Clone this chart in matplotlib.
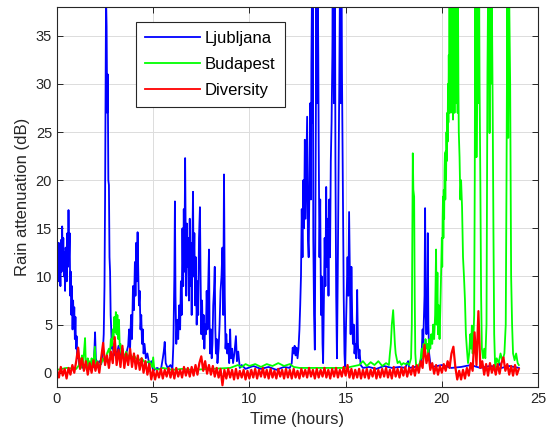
import matplotlib
matplotlib.use("Agg")
import matplotlib.pyplot as plt
import numpy as np

# Ljubljana link attenuation (hours, dB)
LJ_T = [0.00, 0.03, 0.06, 0.09, 0.12, 0.15, 0.18, 0.21, 0.24, 0.27, 0.30, 0.33, 0.36, 0.39, 0.42, 0.45,
        0.48, 0.51, 0.54, 0.57, 0.60, 0.63, 0.66, 0.69, 0.72, 0.75, 0.78, 0.81, 0.84, 0.87, 0.90, 0.93,
        0.96, 0.99, 1.02, 1.06, 1.10, 1.15, 1.25, 1.35, 1.50, 1.65, 1.80, 1.90, 1.95, 1.98, 2.02, 2.10,
        2.20, 2.30, 2.38, 2.43, 2.47, 2.50, 2.53, 2.55, 2.58, 2.61, 2.64, 2.67, 2.70, 2.73, 2.76, 2.79,
        2.82, 2.85, 2.90, 2.95, 3.00, 3.10, 3.20, 3.30, 3.40, 3.50, 3.60, 3.70, 3.75, 3.80, 3.85, 3.90,
        3.95, 4.00, 4.05, 4.08, 4.12, 4.15, 4.19, 4.22, 4.26, 4.30, 4.34, 4.38, 4.42, 4.46, 4.50, 4.55,
        4.62, 4.70, 4.80, 4.90, 5.00, 5.20, 5.40, 5.50, 5.55, 5.60, 5.65, 5.75, 5.90, 6.00, 6.05, 6.10,
        6.13, 6.16, 6.20, 6.25, 6.30, 6.35, 6.40, 6.44, 6.48, 6.52, 6.56, 6.59, 6.62, 6.66, 6.69, 6.72,
        6.75, 6.78, 6.82, 6.86, 6.90, 6.93, 6.96, 7.00, 7.03, 7.07, 7.10, 7.14, 7.18, 7.22, 7.26, 7.30,
        7.34, 7.38, 7.43, 7.46, 7.50, 7.54, 7.58, 7.62, 7.66, 7.70, 7.74, 7.78, 7.82, 7.86, 7.90, 7.93,
        7.96, 8.00, 8.04, 8.08, 8.12, 8.16, 8.20, 8.23, 8.26, 8.30, 8.34, 8.40, 8.45, 8.50, 8.55, 8.60,
        8.64, 8.68, 8.72, 8.76, 8.80, 8.85, 8.90, 8.95, 9.00, 9.04, 9.10, 9.15, 9.22, 9.30, 9.35, 9.42,
        9.50, 9.60, 9.80, 10.2, 10.6, 11.0, 11.4, 11.8, 12.1, 12.20, 12.25, 12.30, 12.35, 12.40, 12.45,
        12.50, 12.55, 12.60, 12.64, 12.68, 12.72, 12.76, 12.80, 12.84, 12.88, 12.92, 12.96, 13.00, 13.04,
        13.08, 13.12, 13.16, 13.20, 13.22, 13.25, 13.28, 13.30, 13.32, 13.36, 13.40, 13.44, 13.46, 13.48,
        13.50, 13.52, 13.54, 13.56, 13.58, 13.60, 13.64, 13.68, 13.72, 13.76, 13.80, 13.83, 13.87, 13.91,
        13.95, 13.99, 14.03, 14.07, 14.11, 14.15, 14.19, 14.23, 14.27, 14.31, 14.33, 14.35, 14.37, 14.39,
        14.41, 14.43, 14.45, 14.47, 14.51, 14.55, 14.59, 14.63, 14.67, 14.70, 14.72, 14.74, 14.76, 14.78,
        14.80, 14.82, 14.86, 14.90, 14.94, 14.97, 15.02, 15.06, 15.10, 15.14, 15.18, 15.22, 15.26,
        15.30, 15.34, 15.38, 15.42, 15.46, 15.50, 15.55, 15.60, 15.64, 15.68, 15.72, 15.78, 15.90, 16.2,
        16.6, 17.0, 17.4, 17.8, 18.1, 18.2, 18.25, 18.3, 18.6, 18.90, 18.95, 19.00, 19.03, 19.06, 19.10,
        19.13, 19.16, 19.20, 19.24, 19.27, 19.30, 19.34, 19.40, 19.50, 20.0, 20.5, 21.0, 21.5, 22.0,
        22.5, 22.9, 23.0, 23.1, 23.5, 24.0]
LJ_DB = [11.0, 12.5, 9.5, 13.5, 11.0, 12.0, 9.0, 13.8, 10.5, 15.2, 11.5, 14.0, 10.0, 12.5, 8.5, 13.0,
         12.0, 9.5, 14.5, 11.0, 16.9, 12.0, 14.5, 8.0, 10.5, 6.0, 9.0, 4.5, 7.5, 5.0, 6.8, 3.5,
         5.8, 2.5, 3.8, 1.5, 2.6, 0.8, 1.2, 0.5, 0.8, 0.4, 1.0, 0.6, 2.5, 4.2, 1.5, 0.8,
         1.2, 0.9, 2.0, 4.0, 9.0, 18.0, 30.0, 39.0, 36.0, 27.0, 31.0, 20.0, 19.5, 12.0, 10.5, 6.0,
         4.5, 2.5, 3.0, 1.8, 2.5, 1.8, 2.8, 1.5, 2.5, 1.2, 2.0, 2.8, 4.5, 2.5, 6.0, 3.5,
         9.0, 6.5, 11.5, 8.0, 13.5, 9.5, 14.6, 11.0, 7.0, 8.5, 4.5, 6.0, 3.0, 4.5, 2.0, 3.0,
         1.5, 2.0, 0.8, 1.2, 0.2, 0.5, 0.3, 1.5, 2.2, 3.2, 1.0, 0.5, 0.8, 0.4, 3.0, 10.0,
         17.8, 8.0, 3.0, 5.5, 3.5, 7.0, 4.5, 9.5, 6.0, 15.0, 9.0, 17.0, 10.5, 22.3, 14.0, 8.0,
         15.5, 11.0, 14.0, 7.5, 16.0, 9.0, 13.5, 6.0, 12.0, 18.8, 10.0, 14.5, 7.0, 12.0, 5.0, 9.5,
         6.0, 14.0, 17.2, 10.5, 4.0, 7.5, 3.5, 6.0, 2.5, 5.0, 4.0, 8.5, 4.5, 9.0, 12.8, 5.0,
         2.0, 4.5, 1.5, 3.0, 7.0, 8.5, 11.0, 4.5, 2.0, 3.5, 1.0, 2.5, 5.0, 8.5, 10.0, 13.0,
         6.0, 20.6, 8.0, 2.5, 4.0, 2.0, 3.0, 1.0, 4.5, 1.5, 2.5, 1.0, 2.0, 3.8, 1.2, 2.2,
         0.5, 0.8, 0.4, 0.7, 0.4, 0.6, 0.3, 0.6, 0.5, 1.0, 2.6, 2.0, 2.8, 1.8, 2.6,
         1.5, 2.5, 4.5, 7.0, 10.0, 17.0, 12.0, 20.0, 15.0, 24.2, 16.0, 21.0, 26.6, 14.0,
         12.0, 20.0, 28.0, 18.0, 32.0, 39.0, 26.0, 39.0, 14.0, 6.0, 2.4, 20.0, 30.0, 39.0,
         28.0, 39.0, 30.0, 39.0, 33.0, 24.0, 12.0, 18.0, 6.0, 10.0, 3.0, 1.0, 8.0, 14.0,
         9.0, 19.3, 11.0, 16.0, 8.0, 18.0, 12.0, 22.0, 26.0, 33.0, 39.0, 30.0, 39.0, 28.0,
         39.0, 34.0, 39.0, 22.0, 8.0, 1.5, 10.0, 20.0, 30.0, 39.0, 31.0, 39.0, 28.0, 39.0,
         34.0, 30.0, 20.0, 8.0, 2.0, 0.5, 5.0, 9.0, 12.0, 8.0, 16.7, 10.0, 4.0,
         11.0, 6.0, 3.0, 5.0, 2.0, 3.0, 1.5, 8.6, 3.0, 1.5, 2.4, 0.8, 0.5, 0.6,
         0.4, 0.7, 0.5, 0.6, 0.5, 1.0, 1.2, 0.5, 0.6, 0.8, 2.0, 4.5, 3.0, 5.2, 8.0,
         17.1, 6.0, 4.0, 6.5, 14.5, 5.0, 2.0, 1.0, 0.6, 0.8, 0.5, 0.6, 0.8, 0.5,
         0.7, 0.6, 1.0, 0.5, 0.7, 0.5]

# Budapest link attenuation (hours, dB)
BP_T = [0.0, 0.5, 1.0, 1.15, 1.20, 1.25, 1.30, 1.35, 1.40, 1.46, 1.50, 1.55, 1.60, 1.65, 1.70, 1.75,
        1.80, 1.85, 1.90, 1.97, 2.02, 2.10, 2.20, 2.30, 2.40, 2.50, 2.60, 2.70, 2.75, 2.80, 2.85, 2.90,
        2.94, 2.98, 3.02, 3.06, 3.10, 3.14, 3.18, 3.22, 3.26, 3.30, 3.35, 3.40, 3.50, 3.60, 3.70, 3.80,
        3.90, 4.00, 4.20, 4.40, 4.60, 4.80, 4.95, 5.00, 5.05, 5.2, 5.5, 6.0, 6.5, 7.0, 8.0, 9.0,
        9.4, 9.6, 9.8, 10.0, 10.3, 10.6, 10.9, 11.2, 11.5, 11.8, 12.1, 12.3, 12.6, 15.0, 15.7, 15.9,
        16.1, 16.3, 16.5, 16.7, 16.9, 17.1, 17.25, 17.30, 17.35, 17.40, 17.47, 17.52, 17.56, 17.60,
        17.65, 17.70, 17.80, 17.90, 18.00, 18.10, 18.20, 18.30, 18.40, 18.44, 18.47, 18.49, 18.52,
        18.56, 18.59, 18.62, 18.66, 18.75, 18.85, 18.90, 18.95, 19.00, 19.05, 19.10, 19.15, 19.20,
        19.25, 19.30, 19.35, 19.40, 19.45, 19.50, 19.55, 19.60, 19.65, 19.70, 19.73, 19.77, 19.80,
        19.84, 19.88, 19.92, 19.96, 20.00, 20.02, 20.04, 20.06, 20.08, 20.10, 20.12, 20.14, 20.16,
        20.18, 20.20, 20.22, 20.24, 20.26, 20.28, 20.30, 20.32, 20.34, 20.36, 20.38, 20.40, 20.42,
        20.44, 20.46, 20.48, 20.50, 20.52, 20.54, 20.56, 20.58, 20.60, 20.62, 20.64, 20.66, 20.68,
        20.70, 20.72, 20.74, 20.76, 20.78, 20.80, 20.82, 20.84, 20.86, 20.88, 20.92, 20.96, 21.00,
        21.05, 21.10, 21.15, 21.20, 21.25, 21.30, 21.36, 21.42, 21.48, 21.52, 21.56, 21.60, 21.64,
        21.68, 21.71, 21.73, 21.75, 21.77, 21.80, 21.84, 21.86, 21.88, 21.90, 21.92, 21.94, 21.96,
        22.00, 22.04, 22.08, 22.14, 22.20, 22.26, 22.32, 22.35, 22.37, 22.40, 22.42, 22.44, 22.48,
        22.52, 22.54, 22.56, 22.58, 22.60, 22.64, 22.68, 22.72, 22.77, 22.85, 22.95, 23.05, 23.15,
        23.25, 23.32, 23.36, 23.40, 23.42, 23.45, 23.48, 23.50, 23.55, 23.60, 23.65, 23.70, 23.78,
        23.86, 23.94, 24.00]
BP_DB = [0.3, 0.5, 0.4, 0.8, 1.5, 0.5, 1.8, 0.8, 2.0, 3.6, 1.0, 0.3, 1.5, 0.5, 1.2, 0.6,
         1.5, 0.8, 1.2, 2.7, 0.8, 1.2, 0.6, 1.0, 1.5, 1.0, 2.0, 2.5, 1.8, 3.5, 2.8, 4.5,
         3.5, 5.8, 4.2, 6.3, 4.0, 6.0, 3.5, 5.5, 2.8, 3.0, 2.0, 2.5, 1.5, 2.2, 1.5, 2.0,
         1.5, 1.8, 1.2, 1.5, 1.0, 1.2, 0.6, 1.6, 0.5, 0.3, 0.5, 0.3, 0.4, 0.3, 0.4, 0.5,
         0.8, 0.6, 0.9, 0.7, 0.9, 0.6, 0.9, 0.7, 1.0, 0.7, 0.9, 0.6, 0.5, 0.5, 0.8, 1.2,
         0.7, 1.1, 0.8, 1.2, 0.7, 1.0, 0.8, 2.0, 3.0, 5.0, 6.5, 4.5, 3.0, 2.0,
         1.5, 1.0, 1.2, 0.8, 1.0, 0.9, 1.0, 0.8, 1.5, 5.0, 15.0, 22.8, 19.0,
         18.3, 8.0, 2.0, 0.8, 0.6, 1.0, 1.5, 2.5, 1.5, 3.0, 2.0, 3.5, 2.5,
         3.0, 2.0, 3.5, 2.5, 4.0, 3.0, 5.0, 3.5, 6.0, 12.8, 5.0, 10.4, 4.0,
         7.0, 3.5, 6.5, 10.0, 14.0, 11.0, 16.0, 18.3, 14.0, 19.0, 16.0, 21.0, 22.8,
         18.0, 23.0, 20.0, 25.0, 22.0, 27.0, 24.0, 30.0, 26.0, 33.0, 28.0, 39.0, 27.0,
         39.0, 30.0, 39.0, 28.0, 39.0, 27.0, 39.0, 26.3, 39.0, 28.0, 39.0, 27.0, 39.0,
         29.0, 39.0, 28.0, 39.0, 30.0, 39.0, 27.0, 39.0, 30.0, 25.0, 22.4, 18.0, 20.0,
         17.2, 12.0, 10.0, 7.6, 4.0, 2.5, 1.0, 2.0, 4.0, 2.5, 4.9, 2.0, 3.5,
         6.0, 20.0, 39.0, 28.0, 39.0, 22.4, 32.0, 39.0, 30.0, 39.0, 28.0, 39.0, 30.0,
         20.0, 8.0, 2.5, 1.5, 2.5, 1.5, 5.0, 20.0, 31.3, 39.0, 30.0, 39.0, 24.9,
         39.0, 30.0, 39.0, 32.0, 39.0, 28.0, 15.0, 4.0, 0.5, 1.5, 1.0, 2.0, 1.2,
         2.0, 5.0, 20.0, 39.0, 30.0, 24.4, 34.0, 39.0, 30.0, 10.0, 5.0, 2.0, 1.3,
         2.0, 1.0, 0.8]

# Diversity (site-selection) attenuation, sampled every 6 minutes from 0 h to 24 h
DIV_T = np.round(np.arange(241) * 0.1, 1)
DIV_DB = [
    0.3, -0.5, 0.6, -0.3, 0.4, -0.6, 0.5, -0.2, 0.8, 0.0,
    1.2, 2.6, 0.4, 1.5, 0.2, 1.2, -0.2, 1.0, 0.0, 1.3,
    0.2, 1.1, 0.0, 1.6, 3.1, 0.8, 1.8, 0.5, 2.2, 1.0,
    3.7, 0.8, 2.4, 0.6, 2.8, 0.5, 2.0, 0.8, 2.5, 0.6,
    2.0, 0.4, 1.8, 0.3, 1.5, 0.0, 1.2, -0.2, 0.9, -0.7,
    0.3, -0.7, 0.2, -0.5, 0.4, -0.6, 0.3, -0.4, 0.5, -0.5,
    0.4, -0.6, 0.5, -0.4, 0.3, -0.5, 0.6, -0.3, 0.5, -0.4,
    0.6, -0.3, 0.8, -0.2, 1.0, 1.7, 0.2, 1.2, -0.1, 0.8,
    -0.2, 0.7, -0.4, 0.5, -0.5, 0.4, -1.3, 0.3, -0.6, 0.4,
    -0.5, 0.3, -0.7, 0.4, -0.6, 0.2, -0.5, 0.3, -0.7, 0.2,
    -0.6, 0.3, -0.5, 0.4, -0.6, 0.3, -0.4, 0.5, -0.5, 0.3,
    -0.6, 0.4, -0.5, 0.2, -0.6, 0.4, -0.4, 0.3, -0.6, 0.4,
    -0.5, 0.3, -0.6, 0.4, -0.5, 0.2, -0.6, 0.4, -0.4, 0.3,
    -0.5, 0.5, -0.4, 0.3, -0.6, 0.4, -0.5, 0.3, -0.4, 0.5,
    -0.5, 0.3, -0.6, 0.4, -0.4, 0.5, -0.5, 0.3, -0.4, 0.6,
    -0.3, 0.8, -0.5, 0.4, -0.6, 0.3, -0.5, 0.4, -0.6, 0.3,
    -0.5, 0.4, -0.6, 0.3, -0.4, 0.5, -0.6, 0.3, -0.5, 0.4,
    -0.4, 0.5, -0.5, 0.3, -0.6, 0.6, -0.4, 0.4, -0.5, 0.5,
    -0.3, 0.6, -0.4, 0.5, -0.2, 0.7, -0.3, 0.8, 0.0, 1.2,
    0.5, 2.9, 1.0, 2.0, 0.3, 1.0, -0.1, 0.8, -0.2, 0.7,
    0.0, 0.9, 0.2, 1.2, 0.5, 2.0, 2.7, 0.6, -0.7, 0.2,
    -0.7, 0.3, -0.6, 0.5, -0.3, 1.0, 0.2, 4.2, 0.8, 6.4,
    0.5, 1.2, -0.2, 0.9, -0.3, 1.0, 0.0, 0.8, -0.2, 0.9,
    -0.1, 1.0, 1.6, 0.2, 0.9, -0.2, 0.7, -0.3, 0.8, -0.2,
    0.4,
]

X_TICKS = [0, 5, 10, 15, 20, 25]
Y_TICKS = [0, 5, 10, 15, 20, 25, 30, 35]

plt.rcParams["font.family"] = ["Liberation Sans", "DejaVu Sans"]

fig = plt.figure(figsize=(5.53, 4.36), dpi=100)
ax = fig.add_axes([0.103, 0.112, 0.870, 0.872])

ax.plot(LJ_T, LJ_DB, color="#0000FF", linewidth=1.3, label="Ljubljana")
ax.plot(BP_T, BP_DB, color="#00FF00", linewidth=1.3, label="Budapest")
ax.plot(DIV_T, DIV_DB, color="#FF0000", linewidth=1.6, label="Diversity")

ax.set_xlim(0, 25)
ax.set_ylim(-1.5, 38)
ax.set_xticks(X_TICKS)
ax.set_yticks(Y_TICKS)
ax.grid(True, color="#dcdcdc", linewidth=0.7)
ax.set_axisbelow(True)
ax.tick_params(direction="in", top=True, right=True, length=4, labelsize=10.5,
               colors="#262626", width=0.7)
for sp in ax.spines.values():
    sp.set_color("#262626")
    sp.set_linewidth(0.8)

ax.set_xlabel("Time (hours)", fontsize=12, color="#262626")
ax.set_ylabel("Rain attenuation (dB)", fontsize=12, color="#262626")

leg = ax.legend(loc="upper left", bbox_to_anchor=(0.164, 0.961), borderaxespad=0,
                fontsize=12, handlelength=3.3, handletextpad=0.3, borderpad=0.55,
                labelspacing=0.65, fancybox=False, framealpha=1, edgecolor="#262626")
leg.get_frame().set_linewidth(0.8)
for line in leg.get_lines():
    line.set_linewidth(1.3)

fig.savefig("out.png", dpi=100)
